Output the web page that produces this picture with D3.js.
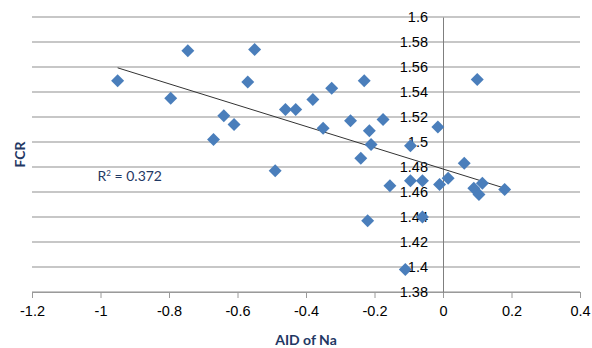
<!DOCTYPE html>
<html>
<head>
<meta charset="utf-8">
<script src="https://cdn.jsdelivr.net/npm/d3@7"></script>
<style>
  body { margin: 0; background: #fff; }
  svg { font-family: Lato, "Open Sans", sans-serif; }
</style>
</head>
<body>
<svg width="592" height="348"></svg>
<script>
// AID of Na (x) vs FCR (y)
const aidNa = [
  -0.95, -0.745, -0.795, -0.55, -0.57, -0.64, -0.61, -0.67, -0.49,
  -0.46, -0.43, -0.38, -0.325, -0.23, -0.35, -0.27, -0.215, -0.175,
  -0.21, -0.24, -0.095, -0.155, -0.095, -0.06, 0.1, -0.015, 0.062,
  -0.01, 0.015, 0.09, 0.115, 0.105, 0.18, -0.22, -0.06, -0.11
];
const fcr = [
  1.549, 1.573, 1.535, 1.574, 1.548, 1.521, 1.514, 1.502, 1.477,
  1.526, 1.526, 1.534, 1.543, 1.549, 1.511, 1.517, 1.509, 1.518,
  1.498, 1.487, 1.497, 1.465, 1.469, 1.469, 1.55, 1.512, 1.483,
  1.466, 1.471, 1.463, 1.467, 1.458, 1.462, 1.437, 1.44, 1.398
];

const xTicks = [-1.2, -1, -0.8, -0.6, -0.4, -0.2, 0, 0.2, 0.4];
const yTicks = [1.38, 1.4, 1.42, 1.44, 1.46, 1.48, 1.5, 1.52, 1.54, 1.56, 1.58, 1.6];

// linear trendline as printed on the chart
const trendSlope = -0.0852,
      trendIntercept = 1.4784,
      rSquared = '0.372';

const points = aidNa.map((a, i) => ({aid: a, fcr: fcr[i]}));

const svg = d3.select('svg'),
      margin = {top: 17, right: 12, bottom: 56, left: 32},
      width = +svg.attr('width') - margin.left - margin.right,
      height = +svg.attr('height') - margin.top - margin.bottom,
      g = svg.append('g').attr('transform', `translate(${margin.left}, ${margin.top})`);

const x = d3.scaleLinear()
  .domain([-1.2, 0.4])
  .range([0, width]);

const y = d3.scaleLinear()
  .domain([1.38, 1.6])
  .range([height, 0]);

const navy = '#1f3864';

// horizontal gridlines
g.append('g').selectAll('line')
  .data(yTicks)
  .enter().append('line')
    .attr('x1', 0)
    .attr('x2', width)
    .attr('y1', d => y(d))
    .attr('y2', d => y(d))
    .attr('stroke', '#b5b5b5')
    .attr('stroke-width', 1.3);

// x axis along the bottom
const xAxis = g.append('g')
  .attr('transform', `translate(0, ${height})`)
  .call(d3.axisBottom(x)
    .tickValues(xTicks)
    .tickSize(6)
    .tickPadding(8)
    .tickFormat(d => String(+d.toFixed(1))));
xAxis.select('.domain').attr('stroke', '#9a9a9a');
xAxis.selectAll('.tick line').attr('stroke', '#9a9a9a');
xAxis.selectAll('.tick text')
  .attr('font-size', 14.5)
  .attr('fill', '#000');

// y axis crossing at x = 0
const yAxis = g.append('g')
  .attr('transform', `translate(${x(0)}, 0)`)
  .call(d3.axisLeft(y)
    .tickValues(yTicks)
    .tickSize(0)
    .tickPadding(15)
    .tickFormat(d => String(+d.toFixed(2))));
yAxis.select('.domain').attr('stroke', '#7f7f7f');
yAxis.selectAll('.tick text')
  .attr('font-size', 14.5)
  .attr('fill', '#000');

// trendline over the range of the data
const trendX = d3.extent(aidNa);
g.append('line')
  .attr('x1', x(trendX[0]))
  .attr('y1', y(trendIntercept + trendSlope * trendX[0]))
  .attr('x2', x(trendX[1]))
  .attr('y2', y(trendIntercept + trendSlope * trendX[1]))
  .attr('stroke', '#333')
  .attr('stroke-width', 1);

// diamonds
g.append('g').selectAll('.point')
  .data(points)
  .enter().append('path')
    .attr('class', 'point')
    .attr('d', d3.symbol(d3.symbolSquare, 84))
    .attr('transform', d => `translate(${x(d.aid)}, ${y(d.fcr)}) rotate(45)`)
    .attr('fill', '#4a7ebb');

// R squared label
g.append('text')
  .attr('x', x(-1.0) - 3)
  .attr('y', y(1.47) + 1)
  .attr('font-size', 14)
  .attr('fill', navy)
  .text('R')
  .append('tspan')
    .attr('dy', -5)
    .attr('font-size', 8)
    .text('2')
  .select(function() { return this.parentNode; })
  .append('tspan')
    .attr('dy', 5)
    .text(' = ' + rSquared);

// axis titles
svg.append('text')
  .attr('x', margin.left + width / 2)
  .attr('y', 345)
  .attr('text-anchor', 'middle')
  .attr('font-size', 14)
  .attr('font-weight', 'bold')
  .attr('fill', navy)
  .text('AID of Na');

svg.append('text')
  .attr('transform', `translate(25, ${margin.top + height / 2}) rotate(-90)`)
  .attr('text-anchor', 'middle')
  .attr('font-size', 14)
  .attr('font-weight', 'bold')
  .attr('fill', navy)
  .text('FCR');
</script>
</body>
</html>
